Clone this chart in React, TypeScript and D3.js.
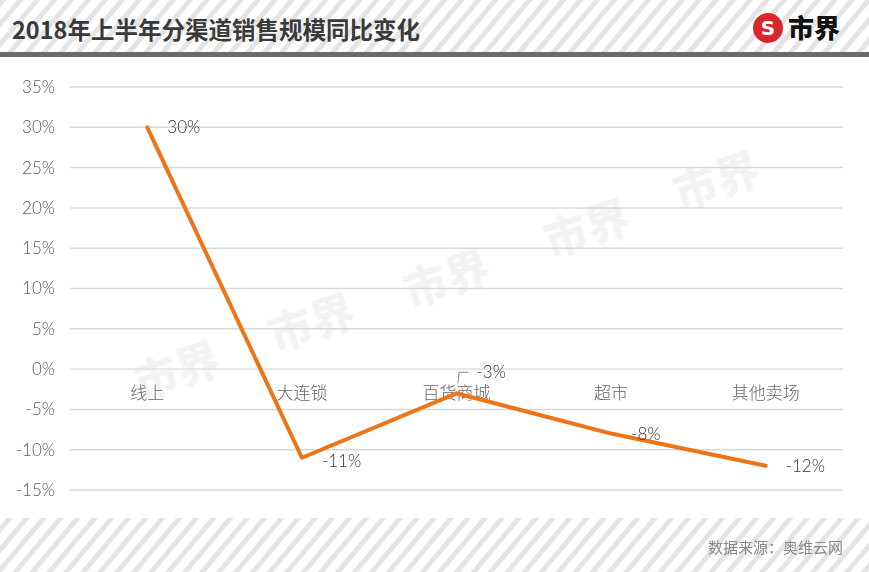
import * as d3 from "d3";
import React, { useEffect, useRef } from "react";

const categories = ["线上", "大连锁", "百货商城", "超市", "其他卖场"];
const values = [30, -11, -3, -8, -12];
const yTicks = [35, 30, 25, 20, 15, 10, 5, 0, -5, -10, -15];

export default function App() {
  const svgRef = useRef(null);
  const width = 869;
  const height = 572;

  useEffect(() => {
    const svg = d3.select(svgRef.current);
    svg.selectAll("*").remove();

    const margin = { left: 70, right: 26 };
    const x = d3
      .scaleBand()
      .domain(categories)
      .range([margin.left, width - margin.right]);
    const y = d3.scaleLinear().domain([-15, 35]).range([490, 87]);

    // striped backgrounds
    const defs = svg.append("defs");
    const pat = defs
      .append("pattern")
      .attr("id", "stripes")
      .attr("width", 13)
      .attr("height", 13)
      .attr("patternUnits", "userSpaceOnUse")
      .attr("patternTransform", "rotate(40)");
    pat.append("rect").attr("width", 13).attr("height", 13).attr("fill", "#fff");
    pat.append("rect").attr("width", 5).attr("height", 13).attr("fill", "#e4e4e4");

    svg.append("rect").attr("width", width).attr("height", height).attr("fill", "#fff");
    svg.append("rect").attr("x", 0).attr("y", 0).attr("width", width).attr("height", 52).attr("fill", "url(#stripes)");
    svg.append("rect").attr("x", 0).attr("y", 518).attr("width", width).attr("height", 54).attr("fill", "url(#stripes)");
    svg.append("rect").attr("x", 0).attr("y", 52).attr("width", width).attr("height", 5).attr("fill", "#6b6b6b");

    // title
    svg
      .append("text")
      .attr("x", 12)
      .attr("y", 39)
      .attr("font-family", "Noto Sans CJK SC")
      .attr("font-weight", "bold")
      .attr("font-size", 23.5)
      .attr("fill", "#3a3a3a")
      .text("2018年上半年分渠道销售规模同比变化");

    // logo
    const logo = svg.append("g").attr("transform", "translate(768,28)");
    logo.append("circle").attr("r", 15).attr("fill", "#d8262b");
    logo
      .append("text")
      .attr("y", 7)
      .attr("text-anchor", "middle")
      .attr("font-family", "DejaVu Sans")
      .attr("font-weight", "bold")
      .attr("font-size", 20)
      .attr("fill", "#fff")
      .text("S");
    svg
      .append("text")
      .attr("x", 788)
      .attr("y", 38)
      .attr("font-family", "Noto Sans CJK SC")
      .attr("font-weight", "900")
      .attr("font-size", 26)
      .attr("fill", "#111")
      .text("市界");

    // watermark
    const wm = svg.append("g").attr("opacity", 0.05);
    [
      [140, 400],
      [275, 352],
      [410, 308],
      [550, 258],
      [680, 210],
    ].forEach(([wx, wy]) => {
      wm.append("text")
        .attr("transform", `translate(${wx},${wy}) rotate(-18)`)
        .attr("font-family", "Noto Sans CJK SC")
        .attr("font-weight", "900")
        .attr("font-size", 44)
        .attr("fill", "#000")
        .text("市界");
    });

    // grid
    svg
      .append("g")
      .selectAll("line")
      .data(yTicks)
      .join("line")
      .attr("x1", margin.left)
      .attr("x2", width - margin.right)
      .attr("y1", (d) => y(d))
      .attr("y2", (d) => y(d))
      .attr("stroke", (d) => (d === 0 ? "#e8dcdc" : "#d9d9d9"))
      .attr("stroke-width", 1.5);

    // y tick labels
    svg
      .append("g")
      .selectAll("text")
      .data(yTicks)
      .join("text")
      .attr("x", 55)
      .attr("y", (d) => y(d))
      .attr("dy", "0.35em")
      .attr("text-anchor", "end")
      .attr("font-family", "Lato")
      .attr("font-weight", 300)
      .attr("font-size", 17)
      .attr("fill", "#5a5a5a")
      .text((d) => d + "%");

    // category labels
    svg
      .append("g")
      .selectAll("text")
      .data(categories)
      .join("text")
      .attr("x", (d) => x(d) + x.bandwidth() / 2)
      .attr("y", y(0) + 30)
      .attr("text-anchor", "middle")
      .attr("font-family", "Noto Sans CJK SC")
      .attr("font-weight", 300)
      .attr("font-size", 17)
      .attr("fill", "#666")
      .text((d) => d);

    const pts = categories.map((c, i) => [x(c) + x.bandwidth() / 2, y(values[i])]);

    // line
    svg
      .append("path")
      .attr("d", d3.line()(pts))
      .attr("fill", "none")
      .attr("stroke", "#ee7418")
      .attr("stroke-width", 4)
      .attr("stroke-linecap", "round")
      .attr("stroke-linejoin", "round");

    // leader for -3%
    const p3 = pts[2];
    svg
      .append("path")
      .attr("d", `M${p3[0] + 1.5},${p3[1] - 10} L${p3[0] + 2.5},${p3[1] - 21} L${p3[0] + 12},${p3[1] - 21}`)
      .attr("fill", "none")
      .attr("stroke", "#888")
      .attr("stroke-width", 1);

    // value labels
    const offsets = [
      [20, 0],
      [20, 3],
      [20, -21],
      [20, 0],
      [20, 0],
    ];
    svg
      .append("g")
      .selectAll("text")
      .data(values)
      .join("text")
      .attr("x", (d, i) => pts[i][0] + offsets[i][0])
      .attr("y", (d, i) => pts[i][1] + offsets[i][1])
      .attr("dy", "0.35em")
      .attr("font-family", "Lato")
      .attr("font-weight", 300)
      .attr("font-size", 17)
      .attr("fill", "#333")
      .text((d) => d + "%");

    // source
    svg
      .append("text")
      .attr("x", 843)
      .attr("y", 553)
      .attr("text-anchor", "end")
      .attr("font-family", "Noto Sans CJK SC")
      .attr("font-size", 15)
      .attr("fill", "#888")
      .text("数据来源：奥维云网");
  }, []);

  return (
    <svg
      ref={svgRef}
      width={width}
      height={height}
      style={{ position: "absolute", left: 0, top: 0 }}
    ></svg>
  );
}
